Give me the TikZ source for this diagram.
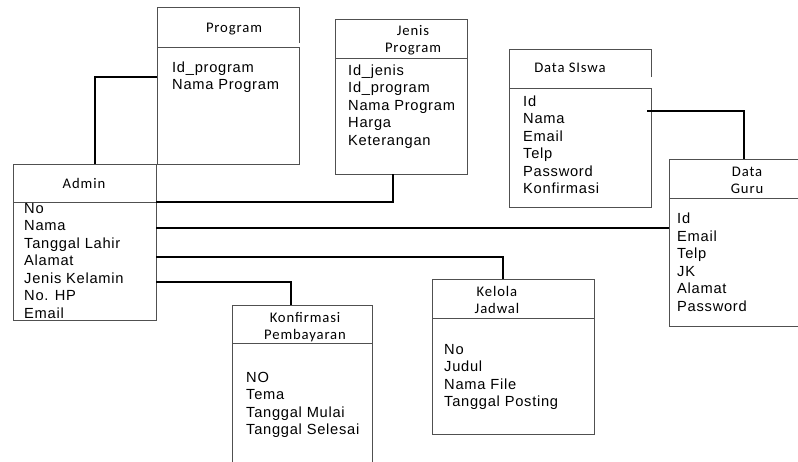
\documentclass[tikz,border=0pt]{standalone}
\usepackage{fontspec}
\setmainfont{Liberation Sans}[LetterSpace=5]
\newfontfamily\ttlfont{Carlito}[LetterSpace=6]
\usetikzlibrary{calc}
\definecolor{boxgray}{RGB}{80,80,80}
\newcommand{\fieldfont}{\fontsize{14.67}{17.5}\selectfont}
\newcommand{\titlefont}{\ttlfont\fontsize{14.67}{17.5}\selectfont}
\begin{document}
\begin{tikzpicture}[x=1pt,y=-1pt,
  entbox/.style={draw=boxgray, line width=0.9pt, rectangle, inner sep=0pt, outer sep=0pt, anchor=north west},
  openhead/.style={rectangle, inner sep=0pt, outer sep=0pt, anchor=north west},
  edge/.style={draw=boxgray, line width=0.9pt},
  link/.style={draw=black, line width=1.5pt},
  ttl/.style={font=\titlefont, inner sep=0pt, anchor=north, align=center},
  fld/.style={font=\fieldfont, inner sep=0pt, anchor=north west, align=left}]
\useasboundingbox (0,0) rectangle (798,461);

% Admin
\node[entbox, minimum width=143pt, minimum height=38pt] (adminH) at (13,164) {};
\node[entbox, minimum width=143pt, minimum height=118pt] (admin) at (13,202) {};
\node[ttl] (adminT) at (84,175.75) {\strut Admin};
\node[fld] (adminF) at (24,200.75) {\strut No\\Nama\\Tanggal Lahir\\Alamat\\Jenis Kelamin\\No. HP\\Email};

% Program
\node[openhead, minimum width=142pt, minimum height=40pt] (progH) at (157,7) {};
\draw[edge] ([yshift=4pt]progH.south east) -- (progH.north east) -- (progH.north west) -- (progH.south west);
\node[entbox, minimum width=142pt, minimum height=117pt] (prog) at (157,47) {};
\node[ttl] (progT) at (234,19.75) {\strut Program};
\node[fld] (progF) at (172,59.75) {\strut Id\_program\\Nama Program};

% Jenis Program
\node[entbox, minimum width=132pt, minimum height=39pt] (jenisH) at (335,19) {};
\node[entbox, minimum width=132pt, minimum height=116pt] (jenis) at (335,58) {};
\node[ttl] (jenisT) at (413,22.75) {\strut Jenis\\Program};
\node[fld] (jenisF) at (348,62.75) {\strut Id\_jenis\\Id\_program\\Nama Program\\Harga\\Keterangan};

% Data Siswa
\node[openhead, minimum width=142pt, minimum height=39pt] (siswaH) at (509,49) {};
\draw[edge] ([yshift=11pt]siswaH.south east) -- (siswaH.north east) -- (siswaH.north west) -- (siswaH.south west);
\node[entbox, minimum width=142pt, minimum height=119pt] (siswa) at (509,88) {};
\node[ttl] (siswaT) at (570,59.75) {\strut Data SIswa};
\node[fld] (siswaF) at (523,93.75) {\strut Id\\Nama\\Email\\Telp\\Password\\Konfirmasi};

% Data Guru
\node[entbox, minimum width=135pt, minimum height=39pt] (guruH) at (669,159) {};
\node[entbox, minimum width=135pt, minimum height=128pt] (guru) at (669,198) {};
\node[ttl] (guruT) at (747,163.75) {\strut Data\\Guru};
\node[fld] (guruF) at (677,211.25) {\strut Id\\Email\\Telp\\JK\\Alamat\\Password};

% Konfirmasi Pembayaran
\node[entbox, minimum width=140pt, minimum height=38pt] (konfH) at (232,305) {};
\node[entbox, minimum width=140pt, minimum height=130pt] (konf) at (232,343) {};
\node[ttl] (konfT) at (305,309.75) {\strut Konfirmasi\\Pembayaran};
\node[fld] (konfF) at (246,369.75) {\strut NO\\Tema\\Tanggal Mulai\\Tanggal Selesai};

% Kelola Jadwal
\node[entbox, minimum width=162pt, minimum height=39pt] (jadwalH) at (432,279) {};
\node[entbox, minimum width=162pt, minimum height=116pt] (jadwal) at (432,318) {};
\node[ttl] (jadwalT) at (497,283.75) {\strut Kelola\\Jadwal};
\node[fld] (jadwalF) at (444,341.75) {\strut No\\Judul\\Nama File\\Tanggal Posting};

% Relations
\draw[link] (adminH.north -| 95,0) |- (progH.west |- 0,77);
\draw[link] (jenis.south -| 393,0) |- (admin.east |- 0,202);
\draw[link] (admin.east |- 0,228) -- (guru.west |- 0,228);
\draw[link] (admin.east |- 0,257) -| (jadwalH.north -| 503,0);
\draw[link] (admin.east |- 0,282) -| (konfH.north -| 291,0);
\draw[link] ($(siswa.east |- 0,111)+(-4,0)$) -| (guruH.north -| 744,0);
\end{tikzpicture}
\end{document}
